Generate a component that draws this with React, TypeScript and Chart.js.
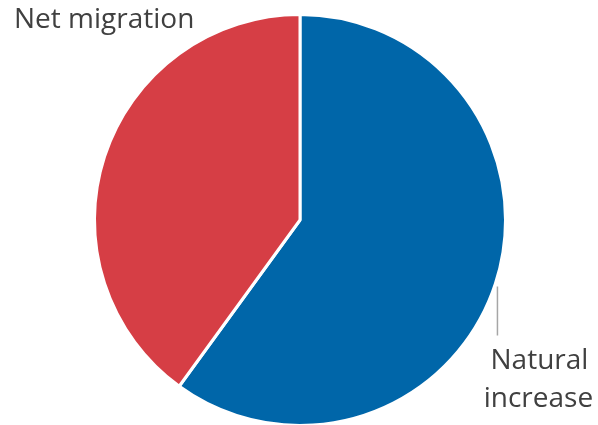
import React, { useEffect, useRef } from "react";
import { Chart, registerables } from "chart.js";

Chart.register(...registerables);

const categories = ["Natural increase", "Net migration"];
const values = [60, 40];
const colors = ["#0066A9", "#D63E45"];

const FONT = '"Open Sans", "Noto Sans", sans-serif';

const labelPlugin = {
  id: "pieLabels",
  afterDraw(chart: any) {
    const ctx = chart.ctx;
    const meta = chart.getDatasetMeta(0);
    const a0 = meta.data[0];
    const a1 = meta.data[1];
    if (!a0 || !a1) return;
    ctx.save();
    ctx.fillStyle = "#404040";
    ctx.font = `28px ${FONT}`;
    ctx.textBaseline = "alphabetic";

    // Natural increase leader line from slice mid on outer edge
    const mid0 = (a0.startAngle + a0.endAngle) / 2;
    const px = a0.x + Math.cos(mid0) * a0.outerRadius;
    const py = a0.y + Math.sin(mid0) * a0.outerRadius;
    ctx.strokeStyle = "#A6A6A6";
    ctx.lineWidth = 1.5;
    ctx.beginPath();
    ctx.moveTo(px + 2, py + 3);
    ctx.lineTo(px + 2, py + 52);
    ctx.stroke();
    ctx.textAlign = "center";
    ctx.fillText(categories[0].split(" ")[0], px + 44, py + 85);
    ctx.fillText(categories[0].split(" ")[1], px + 43, py + 123);

    // Net migration label
    ctx.textAlign = "left";
    ctx.fillText(categories[1], a1.x - 286, a1.y - 192);
    ctx.restore();
  },
};

export default function App() {
  const ref = useRef<HTMLCanvasElement>(null);
  useEffect(() => {
    document.body.style.margin = "0";
    const chart = new Chart(ref.current!, {
      type: "pie",
      data: {
        labels: categories,
        datasets: [
          {
            data: values,
            backgroundColor: colors,
            borderColor: "#FFFFFF",
            borderWidth: 3,
          },
        ],
      },
      options: {
        animation: false,
        responsive: false,
        layout: { padding: { top: 13, bottom: 5, left: 93, right: 91 } },
        plugins: {
          legend: { display: false },
          tooltip: { enabled: false },
        },
      },
      plugins: [labelPlugin],
    });
    return () => chart.destroy();
  }, []);
  return (
    <div style={{ width: 598, height: 425, background: "#fff", overflow: "hidden" }}>
      <canvas ref={ref} width={598} height={432} style={{ display: "block" }} />
    </div>
  );
}
